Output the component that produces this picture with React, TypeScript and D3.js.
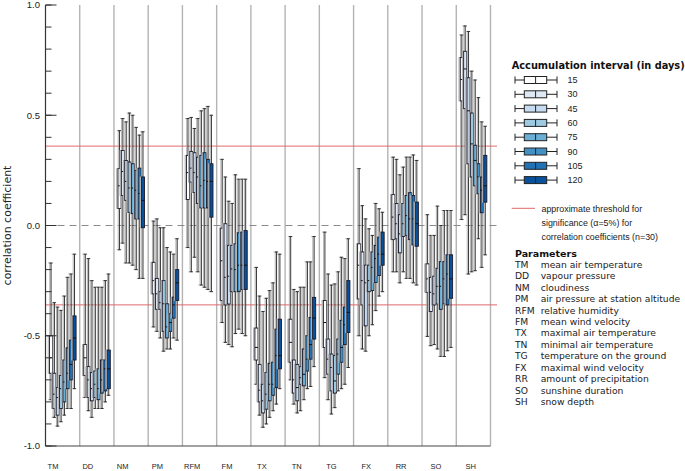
import React from "react";
import * as d3 from "d3";

const params = ["TM", "DD", "NM", "PM", "RFM", "FM", "TX", "TN", "TG", "FX", "RR", "SO", "SH"];
const descriptions = [
  "mean air temperature",
  "vapour pressure",
  "cloudiness",
  "air pressure at station altitude",
  "relative humidity",
  "mean wind velocity",
  "maximal air temperature",
  "minimal air temperature",
  "temperature on the ground",
  "maximal wind velocity",
  "amount of precipitation",
  "sunshine duration",
  "snow depth",
];
const intervals = [15, 30, 45, 60, 75, 90, 105, 120];
const intervalColors = ["#ffffff", "#dde8f4", "#c6dbef", "#9ecae1", "#6baed6", "#4292c6", "#2171b5", "#08519c"];
const majorTicks = [-1, -0.5, 0, 0.5, 1];
const threshold = 0.36;

// each row: [whisker low, q1, median, q3, whisker high] per accumulation interval
const TM = [
  [-0.79, -0.67, -0.6, -0.5, -0.17],
  [-0.87, -0.83, -0.765, -0.67, -0.35],
  [-0.91, -0.86, -0.78, -0.735, -0.37],
  [-0.89, -0.83, -0.74, -0.68, -0.385],
  [-0.86, -0.8, -0.71, -0.61, -0.32],
  [-0.83, -0.74, -0.67, -0.555, -0.235],
  [-0.83, -0.7, -0.63, -0.52, -0.22],
  [-0.74, -0.61, -0.51, -0.41, -0.13],
];
const DD = [
  [-0.78, -0.68, -0.6, -0.54, -0.13],
  [-0.84, -0.78, -0.7, -0.64, -0.15],
  [-0.87, -0.795, -0.74, -0.667, -0.25],
  [-0.83, -0.78, -0.72, -0.66, -0.28],
  [-0.83, -0.79, -0.74, -0.65, -0.28],
  [-0.83, -0.76, -0.7, -0.61, -0.28],
  [-0.8, -0.75, -0.65, -0.61, -0.25],
  [-0.77, -0.74, -0.65, -0.565, -0.22],
];
const NM = [
  [-0.11, 0.077, 0.18, 0.258, 0.43],
  [-0.08, 0.136, 0.245, 0.34, 0.485],
  [-0.17, 0.114, 0.2, 0.295, 0.47],
  [-0.17, 0.06, 0.17, 0.288, 0.51],
  [-0.18, 0.054, 0.17, 0.28, 0.5],
  [-0.2, 0.03, 0.16, 0.25, 0.445],
  [-0.24, 0.03, 0.145, 0.26, 0.41],
  [-0.24, -0.01, 0.114, 0.22, 0.425],
];
const PM = [
  [-0.46, -0.31, -0.25, -0.167, 0.02],
  [-0.48, -0.38, -0.31, -0.24, 0.03],
  [-0.51, -0.38, -0.35, -0.3, -0.01],
  [-0.57, -0.48, -0.355, -0.25, -0.01],
  [-0.56, -0.51, -0.46, -0.355, -0.1],
  [-0.56, -0.48, -0.44, -0.4, -0.12],
  [-0.51, -0.42, -0.36, -0.325, -0.13],
  [-0.52, -0.34, -0.26, -0.2, -0.06],
];
const RFM = [
  [-0.1, 0.118, 0.24, 0.318, 0.485],
  [-0.21, 0.197, 0.26, 0.336, 0.49],
  [-0.144, 0.15, 0.24, 0.33, 0.44],
  [-0.21, 0.1, 0.22, 0.31, 0.485],
  [-0.27, 0.08, 0.18, 0.318, 0.52],
  [-0.28, 0.08, 0.205, 0.33, 0.53],
  [-0.29, 0.08, 0.2, 0.3, 0.54],
  [-0.3, 0.038, 0.2, 0.28, 0.5],
];
const FM = [
  [-0.44, -0.34, -0.16, -0.012, 0.3],
  [-0.53, -0.36, -0.235, 0.008, 0.22],
  [-0.54, -0.356, -0.23, -0.09, 0.11],
  [-0.55, -0.3, -0.197, -0.09, 0.1],
  [-0.49, -0.3, -0.2, -0.083, 0.23],
  [-0.47, -0.3, -0.18, -0.033, 0.21],
  [-0.49, -0.29, -0.18, -0.03, 0.21],
  [-0.5, -0.29, -0.18, -0.023, 0.21],
];
const TX = [
  [-0.72, -0.61, -0.553, -0.465, -0.19],
  [-0.86, -0.8, -0.747, -0.63, -0.32],
  [-0.915, -0.85, -0.795, -0.72, -0.39],
  [-0.9, -0.833, -0.765, -0.667, -0.33],
  [-0.87, -0.795, -0.72, -0.625, -0.295],
  [-0.84, -0.77, -0.72, -0.62, -0.26],
  [-0.81, -0.735, -0.59, -0.47, -0.12],
  [-0.74, -0.65, -0.59, -0.425, -0.13],
];
const TN = [
  [-0.7, -0.62, -0.53, -0.425, -0.05],
  [-0.81, -0.76, -0.7, -0.61, -0.29],
  [-0.85, -0.795, -0.735, -0.63, -0.3],
  [-0.84, -0.72, -0.69, -0.64, -0.28],
  [-0.79, -0.727, -0.675, -0.56, -0.28],
  [-0.74, -0.66, -0.606, -0.5, -0.165],
  [-0.73, -0.606, -0.54, -0.417, -0.165],
  [-0.64, -0.515, -0.42, -0.326, -0.05],
];
const TG = [
  [-0.69, -0.553, -0.44, -0.34, -0.03],
  [-0.79, -0.674, -0.606, -0.515, -0.22],
  [-0.855, -0.75, -0.644, -0.583, -0.27],
  [-0.826, -0.76, -0.705, -0.59, -0.265],
  [-0.75, -0.674, -0.583, -0.515, -0.21],
  [-0.74, -0.62, -0.553, -0.43, -0.144],
  [-0.72, -0.54, -0.45, -0.37, -0.15],
  [-0.644, -0.485, -0.394, -0.25, -0.06],
];
const FX = [
  [-0.5, -0.333, -0.18, -0.083, 0.258],
  [-0.56, -0.36, -0.25, -0.12, 0.09],
  [-0.57, -0.455, -0.26, -0.18, 0.03],
  [-0.5, -0.3, -0.25, -0.18, -0.015],
  [-0.45, -0.295, -0.19, -0.12, -0.045],
  [-0.386, -0.258, -0.15, -0.09, 0.1],
  [-0.32, -0.227, -0.13, -0.053, 0.076],
  [-0.3, -0.18, -0.13, -0.03, 0.06],
];
const RR = [
  [-0.21, -0.064, 0.038, 0.14, 0.31],
  [-0.21, -0.06, 0.008, 0.1, 0.3],
  [-0.26, -0.124, -0.038, 0.049, 0.23],
  [-0.21, -0.05, 0.008, 0.1, 0.265],
  [-0.24, -0.045, 0.045, 0.136, 0.31],
  [-0.24, -0.064, 0.03, 0.149, 0.31],
  [-0.26, -0.088, 0.03, 0.136, 0.32],
  [-0.27, -0.094, 0.008, 0.106, 0.295],
];
const SO = [
  [-0.503, -0.303, -0.242, -0.174, 0.049],
  [-0.545, -0.39, -0.303, -0.235, -0.045],
  [-0.54, -0.36, -0.31, -0.23, -0.045],
  [-0.56, -0.356, -0.276, -0.194, 0.088],
  [-0.594, -0.38, -0.276, -0.164, 0.0],
  [-0.594, -0.355, -0.242, -0.164, 0.068],
  [-0.568, -0.36, -0.22, -0.133, 0.068],
  [-0.553, -0.33, -0.242, -0.133, 0.068],
];
const SH = [
  [0.027, 0.565, 0.662, 0.762, 0.864],
  [0.049, 0.53, 0.71, 0.79, 0.905],
  [-0.22, 0.28, 0.52, 0.67, 0.88],
  [-0.21, 0.22, 0.37, 0.51, 0.7],
  [-0.205, 0.18, 0.295, 0.364, 0.66],
  [-0.06, 0.144, 0.22, 0.28, 0.58],
  [-0.19, 0.058, 0.16, 0.22, 0.47],
  [-0.133, 0.106, 0.18, 0.318, 0.45],
];
const statsByParam = [TM, DD, NM, PM, RFM, FM, TX, TN, TG, FX, RR, SO, SH];

const SANS = "'Liberation Sans', Arial, sans-serif";
const VERD = "'DejaVu Sans', Verdana, sans-serif";

export default function App() {
  const W = 685;
  const H = 471;
  const left = 45.5;
  const right = 490.5;
  const x = d3.scaleBand<string>().domain(params).range([left, right]).padding(0);
  const xi = d3.scaleBand<string>().domain(intervals.map(String)).range([3.9, 30.7]).padding(0);
  const y = d3.scaleLinear().domain([-1, 1]).range([446, 5]);
  const xl = d3.scalePoint<string>().domain(params).range([53, 470.7]);
  const minorTicks = d3.range(-10, 11).map((d) => d / 10);
  const bw = 3.1;
  const sh = 1.3;
  const cap = 1.6;

  const boxes: React.ReactNode[] = [];
  params.forEach((p, pi) => {
    statsByParam[pi].forEach((s, k) => {
      const [lo, q1, md, q3, hi] = s;
      const cx = (x(p) as number) + (xi(String(intervals[k])) as number) + xi.bandwidth() / 2;
      const gx = cx - sh;
      boxes.push(
        <g key={`${p}-${k}`}>
          {/* grey shadow */}
          <line x1={gx} x2={gx} y1={y(hi)} y2={y(lo)} stroke="#a8a8a8" strokeWidth={0.9} />
          <line x1={gx - cap} x2={gx + cap} y1={y(hi)} y2={y(hi)} stroke="#a8a8a8" strokeWidth={0.9} />
          <line x1={gx - cap} x2={gx + cap} y1={y(lo)} y2={y(lo)} stroke="#a8a8a8" strokeWidth={0.9} />
          <rect x={gx - bw / 2} y={y(q3)} width={bw} height={y(q1) - y(q3)} fill="#dadada" stroke="#ababab" strokeWidth={0.9} />
          {/* main box */}
          <line x1={cx} x2={cx} y1={y(hi)} y2={y(lo)} stroke="#222" strokeWidth={0.9} />
          <line x1={cx - cap} x2={cx + cap} y1={y(hi)} y2={y(hi)} stroke="#222" strokeWidth={0.9} />
          <line x1={cx - cap} x2={cx + cap} y1={y(lo)} y2={y(lo)} stroke="#222" strokeWidth={0.9} />
          <rect x={cx - bw / 2} y={y(q3)} width={bw} height={y(q1) - y(q3)} fill={intervalColors[k]} stroke="#1a1a2a" strokeWidth={0.9} />
          <line x1={cx - bw / 2} x2={cx + bw / 2} y1={y(md)} y2={y(md)} stroke="#111" strokeWidth={1} />
        </g>
      );
    });
  });

  const legendRowY = (i: number) => 80 + i * 14.3;
  const paramRowY = (i: number) => 264.5 + i * 11.45;

  return (
    <svg width={W} height={H} style={{ position: "absolute", left: 0, top: 0, background: "#fff" }}>
      {/* panel separators */}
      {params.map((p) => (
        <line key={p} x1={(x(p) as number) + x.bandwidth()} x2={(x(p) as number) + x.bandwidth()} y1={y(1)} y2={y(-1)} stroke="#b3b3b3" strokeWidth={1.4} />
      ))}
      {/* zero dashed line */}
      <line x1={left} x2={497} y1={y(0)} y2={y(0)} stroke="#8a8a8a" strokeWidth={1} strokeDasharray="7,5" />
      {/* significance thresholds */}
      {[threshold, -threshold].map((t) => (
        <line key={t} x1={left} x2={497} y1={y(t)} y2={y(t)} stroke="#e06a6a" strokeWidth={1} />
      ))}
      {boxes}
      {/* y axis */}
      <line x1={left} x2={left} y1={y(1)} y2={y(-1)} stroke="#333" strokeWidth={1.2} />
      {minorTicks.map((t) => (
        <line key={t} x1={left} x2={left + 6} y1={y(t)} y2={y(t)} stroke="#333" strokeWidth={1} />
      ))}
      {majorTicks.map((t) => (
        <g key={t}>
          <line x1={left} x2={left + 11} y1={y(t)} y2={y(t)} stroke="#333" strokeWidth={1} />
          <text x={40} y={y(t)} dy="0.35em" textAnchor="end" fontFamily={SANS} fontSize={9.5} fill="#222">
            {d3.format(".1f")(t).replace("−", "-")}
          </text>
        </g>
      ))}
      <text transform={`translate(11,${y(0)}) rotate(-90)`} textAnchor="middle" fontFamily={VERD} fontSize={11} fill="#222">
        correlation coefficient
      </text>
      {/* x axis */}
      <line x1={left} x2={right} y1={y(-1)} y2={y(-1)} stroke="#444" strokeWidth={1.2} />
      {params.map((p) => (
        <text key={p} x={xl(p)} y={466} dy="0.35em" textAnchor="middle" fontFamily={SANS} fontSize={7.5} fill="#222">
          {p}
        </text>
      ))}
      {/* legend: accumulation intervals */}
      <text x={511.7} y={68.5} fontFamily={VERD} fontWeight="bold" fontSize={9.8} fill="#111">
        Accumulation interval (in days)
      </text>
      {intervals.map((d, i) => {
        const ly = legendRowY(i);
        return (
          <g key={d}>
            <line x1={515} x2={557} y1={ly} y2={ly} stroke="#222" strokeWidth={1} />
            <line x1={515} x2={515} y1={ly - 3.5} y2={ly + 3.5} stroke="#222" strokeWidth={1} />
            <line x1={557} x2={557} y1={ly - 3.5} y2={ly + 3.5} stroke="#222" strokeWidth={1} />
            <rect x={524.3} y={ly - 3.5} width={22.4} height={7} fill={intervalColors[i]} stroke="#222" strokeWidth={1} />
            <line x1={535.6} x2={535.6} y1={ly - 3.5} y2={ly + 3.5} stroke="#222" strokeWidth={1} />
            <text x={567.5} y={ly} dy="0.35em" fontFamily={SANS} fontSize={9} fill="#222">
              {d}
            </text>
          </g>
        );
      })}
      {/* legend: threshold */}
      <line x1={511.7} x2={535} y1={208.3} y2={208.3} stroke="#e06a6a" strokeWidth={1} />
      {["approximate threshold for", "significance (\u03b1=5%) for", "correlation coefficients (n=30)"].map((t, i) => (
        <text key={t} x={541.5} y={208.5 + i * 14.2} dy="0.35em" fontFamily={SANS} fontSize={8.9} fill="#222">
          {t}
        </text>
      ))}
      {/* legend: parameters */}
      <text x={515} y={254} dy="0.35em" fontFamily={VERD} fontWeight="bold" fontSize={9.5} fill="#111">
        Parameters
      </text>
      {params.map((p, i) => (
        <g key={p}>
          <text x={515} y={paramRowY(i)} dy="0.35em" fontFamily={VERD} fontSize={9.2} fill="#222">
            {p}
          </text>
          <text x={540.7} y={paramRowY(i)} dy="0.35em" fontFamily={VERD} fontSize={9.2} fill="#222">
            {descriptions[i]}
          </text>
        </g>
      ))}
    </svg>
  );
}
